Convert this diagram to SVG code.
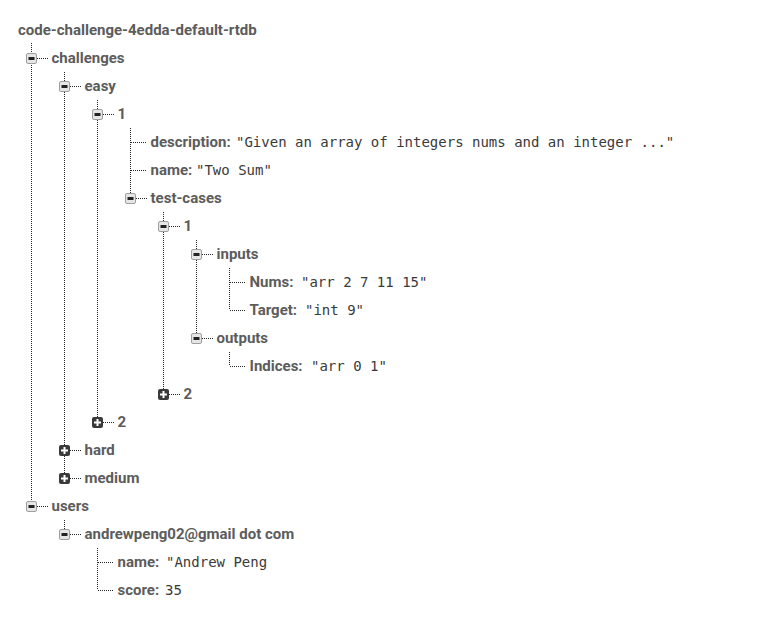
<svg xmlns="http://www.w3.org/2000/svg" xmlns:xlink="http://www.w3.org/1999/xlink" width="777" height="625" viewBox="0 0 777 625">
<defs>
<style>
.k{font-family:Roboto,"Liberation Sans",sans-serif;font-weight:700;font-size:15px;fill:#5c5c5c}
.v{font-family:"DejaVu Sans Mono","Liberation Mono",monospace;font-size:14px;fill:#3a3a3a}
.d{stroke:#222;stroke-width:1;stroke-dasharray:1 1;fill:none;shape-rendering:crispEdges}
</style>
<g id="minus"><rect x="-5" y="-5" width="10" height="10" rx="1.5" fill="#e6e6e6" stroke="#9e9e9e"/><rect x="-3" y="-1.5" width="6" height="3" fill="#222"/></g>
<g id="plus"><rect x="-5.5" y="-5.5" width="11" height="11" rx="2" fill="#3a3a3a"/><rect x="-3.5" y="-1" width="7" height="2" fill="#fff"/><rect x="-1" y="-3.5" width="2" height="7" fill="#fff"/></g>
</defs>
<rect width="777" height="625" fill="#fff"/>
<g id="connectors">
<path class="d" d="M31.5 43V506M64.5 72V478M97.5 100V422M130.5 128V198M163.5 212V394M196.5 240V338M229.5 268V310M229.5 352V366M64.5 520V534M97.5 548V590"/>
<path class="d" d="M37 58.5H48M70 86.5H81M103 114.5H114M130.5 142.5H147M130.5 170.5H147M136 198.5H147M169 226.5H180M202 254.5H213M229.5 282.5H246M229.5 310.5H246M202 338.5H213M229.5 366.5H246M169 394.5H180M103 422.5H114M70 450.5H81M70 478.5H81M37 506.5H48M70 534.5H81M97.5 562.5H114M97.5 590.5H114"/>
</g>
<g id="root"><text class="k" x="18" y="35">code-challenge-4edda-default-rtdb</text></g>
<g id="challenges"><use xlink:href="#minus" x="31.5" y="58.5"/><text class="k" x="51.5" y="63">challenges</text></g>
<g id="easy"><use xlink:href="#minus" x="64.5" y="86.5"/><text class="k" x="84.5" y="91">easy</text></g>
<g id="easy-1"><use xlink:href="#minus" x="97.5" y="114.5"/><text class="k" x="117.5" y="119">1</text></g>
<g id="description"><text class="k" x="150.5" y="147">description:</text><text class="v" x="236" y="147">"Given an array of integers nums and an integer ..."</text></g>
<g id="name"><text class="k" x="150.5" y="175">name:</text><text class="v" x="196" y="175">"Two Sum"</text></g>
<g id="test-cases"><use xlink:href="#minus" x="130.5" y="198.5"/><text class="k" x="150.5" y="203">test-cases</text></g>
<g id="tc-1"><use xlink:href="#minus" x="163.5" y="226.5"/><text class="k" x="183.5" y="231">1</text></g>
<g id="inputs"><use xlink:href="#minus" x="196.5" y="254.5"/><text class="k" x="216.5" y="259">inputs</text></g>
<g id="nums"><text class="k" x="249.5" y="287">Nums:</text><text class="v" x="301" y="287">"arr 2 7 11 15"</text></g>
<g id="target"><text class="k" x="249.5" y="315">Target:</text><text class="v" x="305" y="315">"int 9"</text></g>
<g id="outputs"><use xlink:href="#minus" x="196.5" y="338.5"/><text class="k" x="216.5" y="343">outputs</text></g>
<g id="indices"><text class="k" x="249.5" y="371">Indices:</text><text class="v" x="311" y="371">"arr 0 1"</text></g>
<g id="tc-2"><use xlink:href="#plus" x="163.5" y="394.5"/><text class="k" x="183.5" y="399">2</text></g>
<g id="easy-2"><use xlink:href="#plus" x="97.5" y="422.5"/><text class="k" x="117.5" y="427">2</text></g>
<g id="hard"><use xlink:href="#plus" x="64.5" y="450.5"/><text class="k" x="84.5" y="455">hard</text></g>
<g id="medium"><use xlink:href="#plus" x="64.5" y="478.5"/><text class="k" x="84.5" y="483">medium</text></g>
<g id="users"><use xlink:href="#minus" x="31.5" y="506.5"/><text class="k" x="51.5" y="511">users</text></g>
<g id="andrew"><use xlink:href="#minus" x="64.5" y="534.5"/><text class="k" x="84.5" y="539">andrewpeng02@gmail dot com</text></g>
<g id="user-name"><text class="k" x="117.5" y="567">name:</text><text class="v" x="166" y="567">"Andrew Peng</text></g>
<g id="score"><text class="k" x="117.5" y="595">score:</text><text class="v" x="165" y="595">35</text></g>
</svg>
